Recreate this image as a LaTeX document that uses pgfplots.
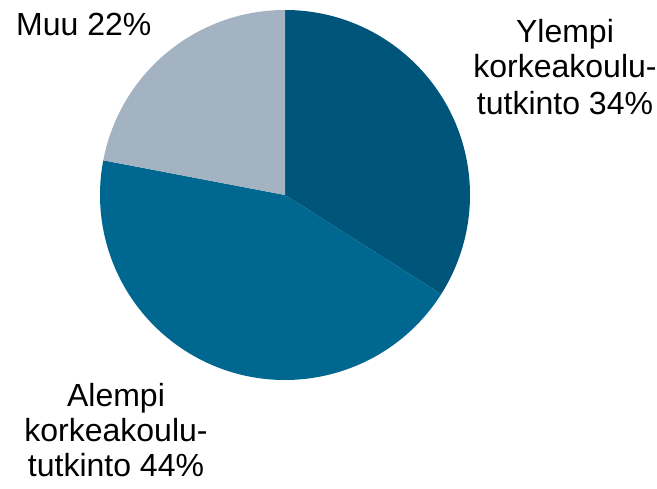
\documentclass[border=0pt]{standalone}
\usepackage{pgfplots}
\pgfplotsset{compat=1.18}
\usepackage{fontspec}
\setmainfont{Liberation Sans}
\definecolor{cYlempi}{RGB}{0,85,122}
\definecolor{cAlempi}{RGB}{0,104,144}
\definecolor{cMuu}{RGB}{163,179,194}
\newcommand{\bigfont}{\fontsize{32}{36}\selectfont}
\tikzset{lbl/.style={font=\bigfont, inner sep=0pt}}
% shares in percent, drawn clockwise from the top
\def\vYlempi{34}
\def\vAlempi{44}
\def\vMuu{22}
\begin{document}
\begin{tikzpicture}
\begin{axis}[
  scale only axis, width=657pt, height=489pt,
  xmin=0, xmax=657, ymin=0, ymax=489,
  hide axis, clip=false,
]
\path (axis cs:0,0) rectangle (axis cs:657,489);
\pgfmathsetmacro{\aA}{90}
\pgfmathsetmacro{\aB}{90-3.6*\vYlempi}
\pgfmathsetmacro{\aC}{\aB-3.6*\vAlempi}
\pgfmathsetmacro{\aD}{\aC-3.6*\vMuu}
\fill[cYlempi] (axis cs:285,294) -- ++(\aA:185pt) arc[start angle=\aA, end angle=\aB, radius=185pt] -- cycle;
\fill[cAlempi] (axis cs:285,294) -- ++(\aB:185pt) arc[start angle=\aB, end angle=\aC, radius=185pt] -- cycle;
\fill[cMuu] (axis cs:285,294) -- ++(\aC:185pt) arc[start angle=\aC, end angle=\aD, radius=185pt] -- cycle;
\node[lbl, anchor=base west] at (axis cs:16,453) {Muu 22\%};
\node[lbl, anchor=base] at (axis cs:565,446) {Ylempi};
\node[lbl, anchor=base] at (axis cs:565,411) {korkeakoulu-};
\node[lbl, anchor=base] at (axis cs:565,374) {tutkinto 34\%};
\node[lbl, anchor=base] at (axis cs:116,82) {Alempi};
\node[lbl, anchor=base] at (axis cs:116,47) {korkeakoulu-};
\node[lbl, anchor=base] at (axis cs:116,12) {tutkinto 44\%};
\end{axis}
\end{tikzpicture}
\end{document}
